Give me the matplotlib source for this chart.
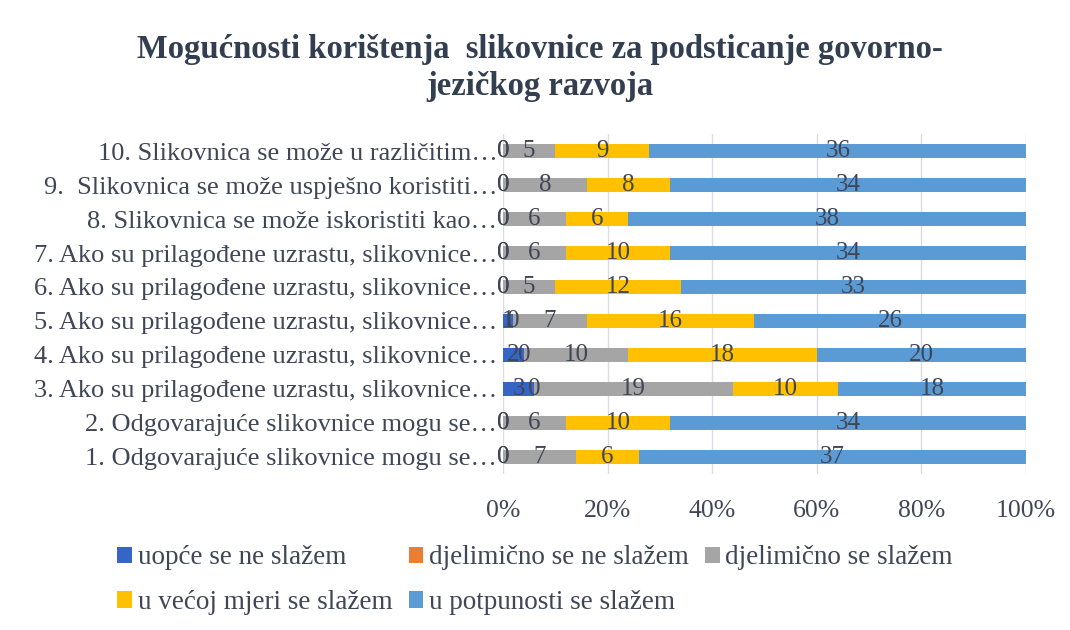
import numpy as np
import matplotlib.pyplot as plt
from matplotlib.patches import Patch

plt.rcParams['font.family'] = ['Liberation Serif', 'DejaVu Serif']

# rows from bottom (1.) to top (10.)
questions = [
    "1. Odgovarajuće slikovnice mogu se…",
    "2. Odgovarajuće slikovnice mogu se…",
    "3. Ako su prilagođene uzrastu, slikovnice…",
    "4. Ako su prilagođene uzrastu, slikovnice…",
    "5. Ako su prilagođene uzrastu, slikovnice…",
    "6. Ako su prilagođene uzrastu, slikovnice…",
    "7. Ako su prilagođene uzrastu, slikovnice…",
    "8. Slikovnica se može iskoristiti kao…",
    "9.  Slikovnica se može uspješno koristiti…",
    "10. Slikovnica se može u različitim…",
]
uopce = [0, 0, 3, 2, 1, 0, 0, 0, 0, 0]
djel_ne = [0, 0, 0, 0, 0, 0, 0, 0, 0, 0]
djel_da = [7, 6, 19, 10, 7, 5, 6, 6, 8, 5]
vecoj = [6, 10, 10, 18, 16, 12, 10, 6, 8, 9]
potpuno = [37, 34, 18, 20, 26, 33, 34, 38, 34, 36]

series_names = ["uopće se ne slažem", "djelimično se ne slažem", "djelimično se slažem",
                "u većoj mjeri se slažem", "u potpunosti se slažem"]
colors = ["#3565C5", "#ED7D31", "#A5A5A5", "#FFC000", "#5B9BD5"]
text_col = "#3F4656"

data = np.array([uopce, djel_ne, djel_da, vecoj, potpuno], dtype=float)
totals = data.sum(axis=0)
pct = data / totals * 100

fig = plt.figure(figsize=(10.7, 6.3), dpi=100)
ax = fig.add_axes([0.470, 0.248, 0.489, 0.539])

y = np.arange(len(questions))
left = np.zeros(len(questions))
for i in range(len(series_names)):
    ax.barh(y, pct[i], left=left, height=0.4, color=colors[i], zorder=2)
    for j in range(len(questions)):
        ax.text(left[j] + pct[i][j] / 2, y[j], f"{int(data[i][j])}", ha='center', va='center',
                fontsize=18, color=text_col, zorder=3)
    left += pct[i]

ax.set_xlim(0, 100)
ax.set_ylim(-0.5, len(questions) - 0.5)
ax.set_xticks([0, 20, 40, 60, 80, 100])
ax.set_xticklabels(["0%", "20%", "40%", "60%", "80%", "100%"])
ax.set_yticks(y)
ax.set_yticklabels(questions)
ax.tick_params(axis='both', length=0, colors=text_col)
ax.tick_params(axis='x', pad=19, labelsize=18.5)
ax.tick_params(axis='y', pad=4, labelsize=19)
ax.grid(axis='x', color='#D9DDE3', linewidth=1, zorder=0)
for s in ax.spines.values():
    s.set_visible(False)

fig.text(0.505, 0.892, "Mogućnosti korištenja  slikovnice za podsticanje govorno-\njezičkog razvoja",
         ha='center', va='center', fontsize=23.5, fontweight='bold', color="#333F50", linespacing=1.25)

# row-major order for a 3-column legend
handles = [Patch(facecolor=c, edgecolor='none') for c in colors]
order = [0, 3, 1, 4, 2]
fig.legend([handles[k] for k in order], [series_names[k] for k in order],
           loc='center left', bbox_to_anchor=(0.097, 0.079), ncol=3, frameon=False,
           fontsize=19.5, handlelength=0.55, handleheight=0.55, handletextpad=0.2,
           columnspacing=0.6, labelspacing=0.72, borderpad=0, labelcolor=text_col)

fig.savefig("out.png", dpi=100)
